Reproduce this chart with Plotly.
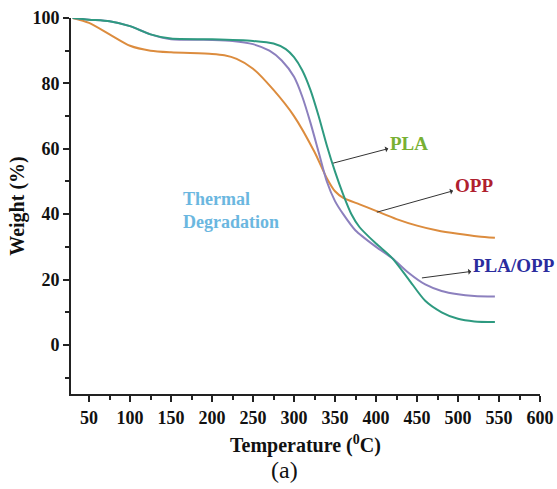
import plotly.graph_objects as go

# Temperature (°C) and weight (%)
temp_opp = [30, 50, 75, 100, 125, 150, 200, 215, 230, 250, 275, 300, 325, 340, 350, 360, 380, 400, 425, 450, 475, 500, 525, 545]
wt_opp = [100, 98.5, 95, 91.5, 90, 89.5, 89, 88.6, 87.5, 84.5, 78, 70, 59, 51, 47, 45, 43, 41, 38.5, 36.5, 35, 34, 33.2, 32.8]

temp_pla = [30, 50, 75, 100, 125, 150, 200, 250, 275, 290, 300, 310, 320, 330, 340, 350, 360, 370, 380, 400, 420, 440, 460, 480, 500, 520, 545]
wt_pla = [100, 99.5, 99, 97.5, 95, 93.7, 93.5, 93, 92.2, 90.5, 88, 84, 78, 70, 61, 53, 46, 40, 36, 31, 26.5, 20, 13.5, 10, 8, 7.2, 7]

temp_blend = [30, 50, 75, 100, 125, 150, 200, 225, 250, 270, 285, 300, 310, 320, 330, 340, 350, 360, 375, 400, 420, 440, 460, 480, 500, 520, 545]
wt_blend = [100, 99.5, 99, 97.5, 95, 93.5, 93.3, 93, 92, 90, 87, 82, 76, 68, 59, 50, 44, 40, 35, 30, 26.5, 22, 18.5, 16.5, 15.5, 15, 14.8]

x_ticks = [50, 100, 150, 200, 250, 300, 350, 400, 450, 500, 550, 600]
y_ticks = [0, 20, 40, 60, 80, 100]

FONT = "Liberation Serif"

fig = go.Figure()
fig.add_trace(go.Scatter(x=temp_opp, y=wt_opp, mode="lines", name="OPP",
                         line=dict(color="#DC8C3E", width=2, shape="spline", smoothing=0.7)))
fig.add_trace(go.Scatter(x=temp_blend, y=wt_blend, mode="lines", name="PLA/OPP",
                         line=dict(color="#8C80BE", width=2, shape="spline", smoothing=0.7)))
fig.add_trace(go.Scatter(x=temp_pla, y=wt_pla, mode="lines", name="PLA",
                         line=dict(color="#2E9A80", width=2, shape="spline", smoothing=0.7)))

def arrow_label(text, color, x, y, tx, ty):
    # (x, y): arrow tail on the curve; (tx, ty): label centre, arrow head at label side
    fig.add_annotation(x=x, y=y, ax=tx, ay=ty, xref="x", yref="y", axref="x", ayref="y",
                       showarrow=True, arrowside="start", arrowhead=2, arrowsize=1.2,
                       arrowwidth=1, arrowcolor="#333333", startstandoff=0,
                       text="<b>%s</b>" % text,
                       font=dict(family=FONT, size=19, color=color))

arrow_label("PLA", "#78B033", 347.6, 55.6, 440, 61.7)
arrow_label("OPP", "#B0202E", 401, 40.6, 519, 48.9)
arrow_label("PLA/OPP", "#2A2C9E", 456, 20.5, 568, 24.2)

fig.add_annotation(x=162, y=41.0, xref="x", yref="y", xanchor="left", yanchor="middle",
                   align="left", showarrow=False, text="<b>Thermal<br>Degradation</b>",
                   font=dict(family=FONT, size=18, color="#6BB7E0"))

fig.add_annotation(x=0.5, y=-0.095, xref="paper", yref="paper", yanchor="top", showarrow=False,
                   text="<b>Temperature (<sup>0</sup>C)</b>",
                   font=dict(family=FONT, size=20, color="#111111"))
fig.add_annotation(x=0.455, y=-0.163, xref="paper", yref="paper", yanchor="top", showarrow=False,
                   text="(a)", font=dict(family=FONT, size=24, color="#111111"))

fig.update_layout(
    width=557, height=489,
    margin=dict(l=71, r=17, t=18, b=95, autoexpand=False),
    paper_bgcolor="white", plot_bgcolor="white",
    showlegend=False,
    font=dict(family=FONT, color="#111111"),
)
fig.update_xaxes(range=[28, 600], tickvals=x_ticks, ticktext=["<b>%d</b>" % v for v in x_ticks],
                 automargin=False,
                 showgrid=False, zeroline=False, showline=True, linecolor="#222222", linewidth=2,
                 ticks="outside", ticklen=6, tickwidth=1.5, tickcolor="#222222",
                 tickfont=dict(family=FONT, size=18, color="#111111"),
                 minor=dict(ticks="outside", dtick=25, tick0=25, ticklen=4, tickwidth=1.5, tickcolor="#222222"))
fig.update_yaxes(range=[-15, 100], tickvals=y_ticks, ticktext=["<b>%d</b>" % v for v in y_ticks],
                 automargin=False,
                 showgrid=False, zeroline=False, showline=True, linecolor="#222222", linewidth=2,
                 ticks="outside", ticklen=6, tickwidth=1.5, tickcolor="#222222",
                 tickfont=dict(family=FONT, size=18, color="#111111"),
                 title=dict(text="<b>Weight (%)</b>", font=dict(family=FONT, size=20, color="#111111"), standoff=2),
                 minor=dict(ticks="outside", dtick=10, tick0=-10, ticklen=4, tickwidth=1.5, tickcolor="#222222"))

# remove the default page margin so the 557x489 figure fills the window exactly
fig.write_html("out.html", config={"displayModeBar": False},
               post_script="document.body.style.margin='0';document.body.style.overflow='hidden';")
